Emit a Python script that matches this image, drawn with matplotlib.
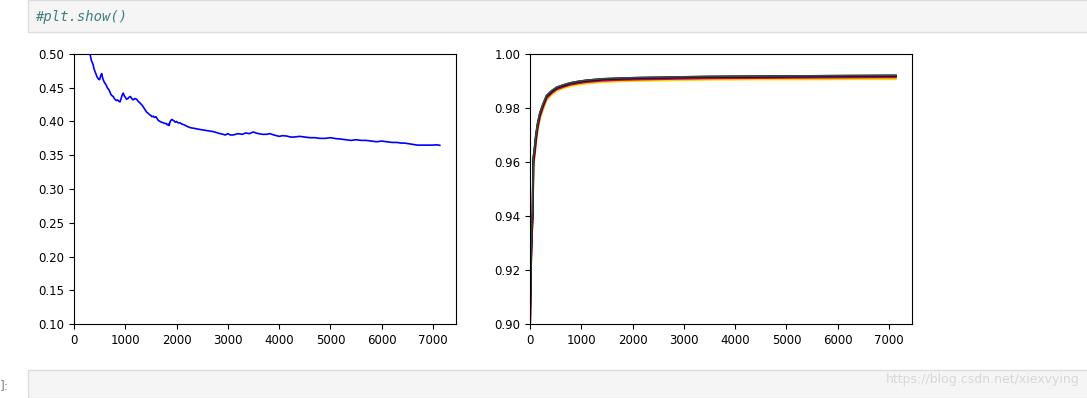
import matplotlib.pyplot as plt
from matplotlib.patches import Rectangle

# left panel: single noisy decreasing series
x_left = [0, 100, 200, 280, 312, 340, 370, 390, 409, 430, 450, 475, 500, 520, 540, 560, 580, 600, 620, 650,
          680, 700, 720, 745, 766, 785, 800, 825, 850, 875, 897, 915, 930, 945, 962, 980, 1000, 1025, 1050,
          1075, 1100, 1125, 1150, 1185, 1222, 1250, 1280, 1305, 1330, 1355, 1380, 1415, 1449, 1475, 1500, 1520,
          1546, 1570, 1600, 1640, 1676, 1710, 1750, 1775, 1800, 1820, 1839, 1855, 1870, 1885, 1904, 1925, 1950,
          1975, 2000, 2030, 2066, 2110, 2150, 2200, 2261, 2330, 2400, 2470, 2550, 2630, 2716, 2760, 2800, 2850,
          2911, 2950, 3000, 3050, 3100, 3150, 3200, 3280, 3350, 3420, 3496, 3550, 3600, 3680, 3750, 3820, 3900,
          3950, 4000, 4070, 4146, 4220, 4300, 4400, 4500, 4600, 4700, 4800, 4900, 5000, 5120, 5200, 5300, 5400,
          5500, 5600, 5700, 5800, 5900, 6000, 6095, 6200, 6300, 6380, 6450, 6530, 6614, 6700, 6800, 6900, 7000,
          7070, 7134]
y_left = [0.62, 0.58, 0.55, 0.52, 0.50, 0.49, 0.485, 0.478, 0.474, 0.470, 0.466, 0.463, 0.462, 0.468, 0.471,
          0.464, 0.460, 0.457, 0.455, 0.450, 0.447, 0.444, 0.440, 0.438, 0.437, 0.434, 0.433, 0.431, 0.432,
          0.430, 0.429, 0.433, 0.437, 0.440, 0.442, 0.438, 0.436, 0.433, 0.434, 0.436, 0.437, 0.434, 0.432,
          0.434, 0.433, 0.430, 0.428, 0.426, 0.424, 0.421, 0.418, 0.414, 0.412, 0.410, 0.409, 0.407, 0.408,
          0.406, 0.407, 0.402, 0.400, 0.399, 0.398, 0.397, 0.397, 0.395, 0.396, 0.394, 0.399, 0.401, 0.403,
          0.402, 0.401, 0.399, 0.400, 0.398, 0.398, 0.396, 0.395, 0.393, 0.391, 0.390, 0.389, 0.388, 0.387,
          0.386, 0.385, 0.384, 0.383, 0.382, 0.381, 0.380, 0.382, 0.380, 0.380, 0.381, 0.382, 0.381, 0.383,
          0.382, 0.3845, 0.383, 0.382, 0.381, 0.381, 0.382, 0.380, 0.379, 0.378, 0.379, 0.3785, 0.377, 0.377,
          0.378, 0.377, 0.376, 0.376, 0.375, 0.375, 0.376, 0.3745, 0.374, 0.373, 0.372, 0.373, 0.372, 0.372,
          0.371, 0.370, 0.371, 0.370, 0.369, 0.369, 0.368, 0.368, 0.367, 0.366, 0.365, 0.365, 0.365, 0.365,
          0.3655, 0.3647]

# right panel: several saturating curves
x_right = [0, 20, 40, 52, 64, 90, 117, 150, 195, 250, 325, 420, 520, 650, 780, 950, 1105, 1400, 1754, 2200,
           2800, 3500, 4300, 5200, 6100, 7134]
s_gray = [0.902, 0.927, 0.939, 0.9415, 0.9615, 0.9655, 0.9702, 0.9745, 0.9783, 0.9813, 0.9847, 0.9864, 0.9877,
          0.9886, 0.9893, 0.9899, 0.9903, 0.9908, 0.9911, 0.9913, 0.9915, 0.9917, 0.9918, 0.9919, 0.9920, 0.9921]
s_black = [0.901, 0.926, 0.938, 0.941, 0.961, 0.965, 0.970, 0.9742, 0.9781, 0.9811, 0.9845, 0.9862, 0.9876,
           0.9884, 0.9892, 0.9898, 0.9902, 0.9907, 0.9910, 0.9912, 0.9914, 0.9916, 0.9917, 0.9918, 0.9919, 0.9920]
s_purple = [0.900, 0.924, 0.936, 0.940, 0.960, 0.964, 0.969, 0.9735, 0.9775, 0.9806, 0.9841, 0.9858, 0.9872,
            0.9881, 0.9889, 0.9895, 0.9899, 0.9904, 0.9907, 0.9909, 0.9911, 0.9913, 0.9914, 0.9915, 0.9916, 0.9917]
s_red = [0.900, 0.923, 0.935, 0.939, 0.959, 0.963, 0.968, 0.9728, 0.9769, 0.9801, 0.9837, 0.9855, 0.9869,
         0.9878, 0.9886, 0.9892, 0.9896, 0.9901, 0.9904, 0.9906, 0.9908, 0.9910, 0.9911, 0.9912, 0.9913, 0.9914]
s_gold = [0.900, 0.922, 0.934, 0.938, 0.958, 0.962, 0.967, 0.9718, 0.9760, 0.9793, 0.9830, 0.9849, 0.9864,
          0.9873, 0.9881, 0.9887, 0.9891, 0.9896, 0.9899, 0.9901, 0.9903, 0.9905, 0.9906, 0.9906, 0.9907, 0.9907]

plt.rcParams['font.size'] = 8.5

fig = plt.figure(figsize=(10.87, 3.98), dpi=100)

# notebook chrome around the output
fig.patches.append(Rectangle((28 / 1087, 1 - 32 / 398), 1, 32 / 398, transform=fig.transFigure,
                             facecolor='#f5f5f5', edgecolor='#dcdcdc', lw=1))
fig.text(35 / 1087, 1 - 17 / 398, '#plt.show()', color='#408080', style='italic',
         family='DejaVu Sans Mono', fontsize=10, va='center')
fig.patches.append(Rectangle((28 / 1087, 0), 1, 28 / 398, transform=fig.transFigure,
                             facecolor='#f5f5f5', edgecolor='#dcdcdc', lw=1))
fig.text(0, 12 / 398, ']:', color='#888888', fontsize=9, va='center')
fig.text(1080 / 1087, 18 / 398, 'https://blog.csdn.net/xiexvying', color='#d8d8d8',
         fontsize=9, ha='right', va='center')

ax1 = fig.add_axes([74 / 1087, 74 / 398, 382 / 1087, 270 / 398])
ax1.plot(x_left, y_left, color='blue', lw=1.2)
ax1.set_xlim(0, 7450)
ax1.set_ylim(0.1, 0.5)
ax1.set_yticks([0.10, 0.15, 0.20, 0.25, 0.30, 0.35, 0.40, 0.45, 0.50])
ax1.set_xticks(range(0, 8000, 1000))

ax2 = fig.add_axes([530 / 1087, 74 / 398, 382 / 1087, 270 / 398])
ax2.plot(x_right, s_gold, color='gold', lw=1.5)
ax2.plot(x_right, s_red, color='crimson', lw=1.5)
ax2.plot(x_right, s_purple, color='purple', lw=1.5)
ax2.plot(x_right, s_black, color='black', lw=1.5)
ax2.plot(x_right, s_gray, color='#3b4a3f', lw=1.2)
ax2.set_xlim(0, 7450)
ax2.set_ylim(0.9, 1.0)
ax2.set_yticks([0.90, 0.92, 0.94, 0.96, 0.98, 1.00])
ax2.set_xticks(range(0, 8000, 1000))

fig.savefig('out.png', dpi=100)
